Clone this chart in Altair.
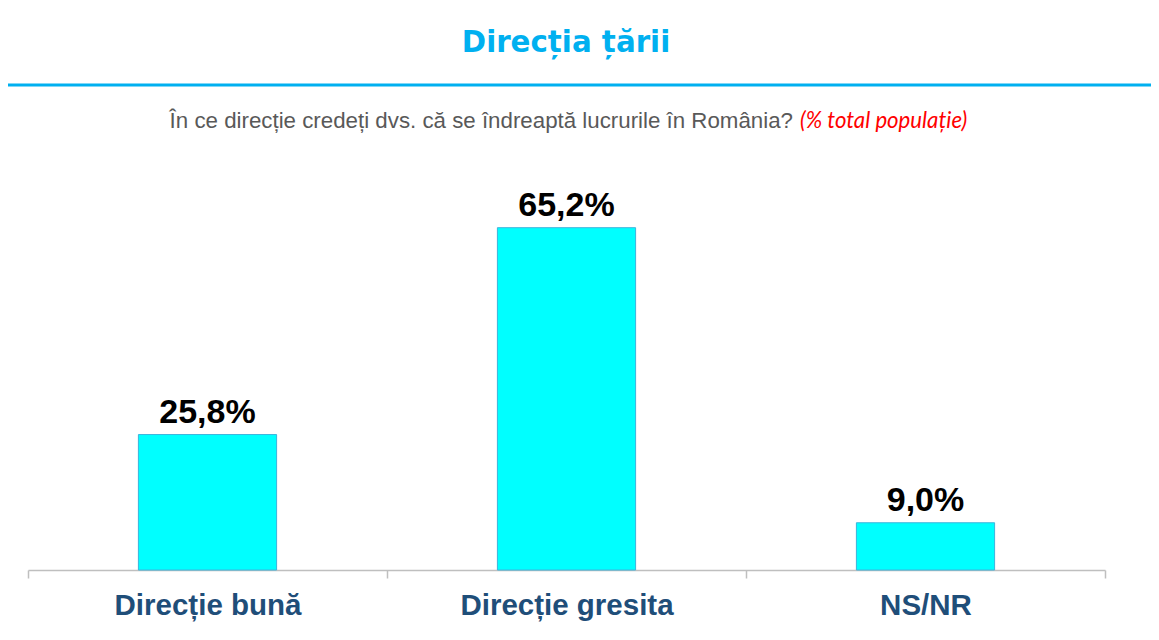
import altair as alt
import pandas as pd

categories = ["Direcție bună", "Direcție gresita", "NS/NR"]
values = [25.8, 65.2, 9.0]
value_labels = ["25,8%", "65,2%", "9,0%"]
title_text = ["Direcția țării"]
subtitle_text = ["În ce direcție credeți dvs. că se îndreaptă lucrurile în România?"]
subtitle_note = ["(% total populație)"]

W, H = 1077, 420

df = pd.DataFrame({"cat": categories, "val": values, "lab": value_labels})

x = alt.X("cat:N", sort=categories, title=None,
          scale=alt.Scale(paddingInner=0, paddingOuter=0),
          axis=alt.Axis(tickBand="extent", labelAngle=0, labelFont="Liberation Sans",
                        labelFontSize=29.5, labelFontWeight="bold", labelColor="#1F4E79",
                        labelPadding=13, labelLimit=0, domainColor="#BFBFBF", domainWidth=1.5,
                        tickColor="#BFBFBF", tickWidth=1.5, tickSize=8, grid=False))
y = alt.Y("val:Q", scale=alt.Scale(domain=[0, 80]), axis=None)

base = alt.Chart(df)
bars = base.mark_bar(width=alt.RelativeBandSize(0.385), color="#00FFFF",
                     stroke="#3CB4DC", strokeWidth=1).encode(x=x, y=y)
labels = base.mark_text(font="Liberation Sans", fontSize=34, fontWeight="bold",
                        color="#000000", baseline="alphabetic", dy=-12).encode(
    x=alt.X("cat:N", sort=categories), y="val:Q", text="lab:N")

title = alt.Chart(pd.DataFrame({"t": title_text})).mark_text(
    font="DejaVu Sans", fontSize=29.3, fontWeight="bold", color="#00B0F0",
    align="center", baseline="alphabetic").encode(
    x=alt.value(538), y=alt.value(-98), text="t:N")

line = alt.Chart(pd.DataFrame({"t": title_text})).mark_rule(
    color="#00B0F0", strokeWidth=3).encode(
    x=alt.value(-20), x2=alt.value(1123), y=alt.value(-65))

sub = alt.Chart(pd.DataFrame({"t": subtitle_text})).mark_text(
    font="Liberation Sans", fontSize=22.3, color="#595959",
    align="right", baseline="alphabetic").encode(
    x=alt.value(765), y=alt.value(-22), text="t:N")

note = alt.Chart(pd.DataFrame({"t": subtitle_note})).mark_text(
    font="Lato", fontSize=22.2, fontStyle="italic", color="#FF0000",
    align="left", baseline="alphabetic").encode(
    x=alt.value(772), y=alt.value(-22), text="t:N")

chart = alt.layer(bars, labels, title, line, sub, note).properties(
    width=W, height=H,
    autosize=alt.AutoSizeParams(type="none"),
    padding={"left": 20, "top": 142, "right": 46, "bottom": 62},
).configure_view(stroke=None)

chart.save("out.html", embed_options={"renderer": "svg", "actions": False})
